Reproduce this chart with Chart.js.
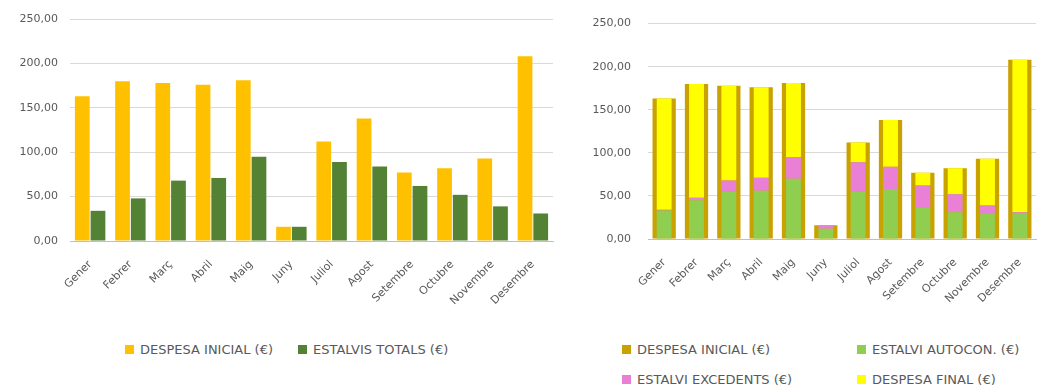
<!DOCTYPE html>
<html lang="ca">
<head>
    <meta charset="UTF-8">
    <title>Despesa i estalvi mensual</title>
    <script src="https://cdn.jsdelivr.net/npm/chart.js"></script>
    <style>
        body {
            margin: 0;
            background: #ffffff;
            font-family: "DejaVu Sans", sans-serif;
        }

        #page {
            position: relative;
            width: 1039px;
            height: 391px;
            overflow: hidden;
        }

        .chart-box {
            position: absolute;
            top: 0;
            height: 330px;
        }

        .legend-item {
            position: absolute;
            font-size: 13px;
            color: #595959;
            line-height: 14px;
            white-space: nowrap;
        }

        .legend-item span {
            display: inline-block;
            width: 9px;
            height: 9px;
            margin-right: 6px;
            vertical-align: 0;
        }
    </style>
</head>
<body>

<div id="page">
    <div class="chart-box" style="left:0; width:556px;">
        <canvas id="chartTotals"></canvas>
    </div>
    <div class="chart-box" style="left:560px; width:479px;">
        <canvas id="chartDetail"></canvas>
    </div>

    <!-- legends -->
    <div class="legend-item" style="left:125px; top:343px;"><span style="background:#ffc000"></span>DESPESA INICIAL (€)</div>
    <div class="legend-item" style="left:298px; top:343px;"><span style="background:#548235"></span>ESTALVIS TOTALS (€)</div>

    <div class="legend-item" style="left:622px; top:343px;"><span style="background:#c9a200"></span>DESPESA INICIAL (€)</div>
    <div class="legend-item" style="left:857px; top:343px;"><span style="background:#8fce4f"></span>ESTALVI AUTOCON. (€)</div>
    <div class="legend-item" style="left:622px; top:373px;"><span style="background:#ea7fd6"></span>ESTALVI EXCEDENTS (€)</div>
    <div class="legend-item" style="left:857px; top:373px;"><span style="background:#ffff00"></span>DESPESA FINAL (€)</div>
</div>

<script>
    // monthly figures in euros
    const months = ['Gener', 'Febrer', 'Març', 'Abril', 'Maig', 'Juny', 'Juliol', 'Agost', 'Setembre', 'Octubre', 'Novembre', 'Desembre'];
    const despesaInicial = [163, 180, 178, 176, 181, 16, 112, 138, 77, 82, 93, 208];
    const estalvisTotals = [34, 48, 68, 71, 95, 16, 89, 84, 62, 52, 39, 31];
    const estalviAutocon = [33, 45, 55, 56, 70, 12, 55, 58, 36, 31, 29, 30];
    const estalviExcedents = [1, 3, 13, 15, 25, 4, 34, 26, 26, 21, 10, 1];
    const despesaFinal = [129, 132, 110, 105, 86, 0, 23, 54, 15, 30, 54, 177];
    const yTicks = [0, 50, 100, 150, 200, 250];

    const textColor = '#595959';
    const tickFont = {family: 'DejaVu Sans', size: 11};

    // shared axis setup, xHeight/yWidth pin the plot area
    function axes(yWidth, xHeight, yPad, stacked) {
        return {
            x: {
                stacked: stacked,
                grid: {display: false},
                border: {display: true, color: '#bfbfbf', width: 1},
                ticks: {
                    color: textColor,
                    font: tickFont,
                    maxRotation: 45,
                    minRotation: 45,
                    padding: 9
                },
                afterFit: scale => { scale.height = xHeight; }
            },
            y: {
                stacked: stacked,
                min: 0,
                max: 250,
                afterBuildTicks: scale => { scale.ticks = yTicks.map(v => ({value: v})); },
                grid: {color: '#d9d9d9', drawTicks: false},
                border: {display: false},
                ticks: {
                    color: textColor,
                    font: tickFont,
                    padding: yPad,
                    callback: v => v.toFixed(2).replace('.', ',')
                },
                afterFit: scale => { scale.width = yWidth; }
            }
        };
    }

    new Chart(document.getElementById('chartTotals'), {
        type: 'bar',
        data: {
            labels: months,
            datasets: [{
                label: 'DESPESA INICIAL (€)',
                data: despesaInicial,
                backgroundColor: '#ffc000',
                categoryPercentage: 0.78,
                barPercentage: 0.94
            }, {
                label: 'ESTALVIS TOTALS (€)',
                data: estalvisTotals,
                backgroundColor: '#548235',
                categoryPercentage: 0.78,
                barPercentage: 0.94
            }]
        },
        options: {
            responsive: true,
            maintainAspectRatio: false,
            animation: false,
            layout: {padding: {top: 19, right: 3, left: 0, bottom: 0}},
            plugins: {legend: {display: false}, tooltip: {enabled: false}},
            scales: axes(70, 89, 12, false)
        }
    });

    // despesa inicial drawn wide behind, the three parts stacked narrow in front
    new Chart(document.getElementById('chartDetail'), {
        type: 'bar',
        data: {
            labels: months,
            datasets: [{
                label: 'DESPESA INICIAL (€)',
                data: despesaInicial,
                backgroundColor: '#c9a200',
                stack: 'inicial',
                grouped: false,
                order: 1,
                categoryPercentage: 1,
                barPercentage: 0.72
            }, {
                label: 'ESTALVI AUTOCON. (€)',
                data: estalviAutocon,
                backgroundColor: '#8fce4f',
                stack: 'final',
                grouped: false,
                order: 0,
                categoryPercentage: 1,
                barPercentage: 0.46
            }, {
                label: 'ESTALVI EXCEDENTS (€)',
                data: estalviExcedents,
                backgroundColor: '#ea7fd6',
                stack: 'final',
                grouped: false,
                order: 0,
                categoryPercentage: 1,
                barPercentage: 0.46
            }, {
                label: 'DESPESA FINAL (€)',
                data: despesaFinal,
                backgroundColor: '#ffff00',
                stack: 'final',
                grouped: false,
                order: 0,
                categoryPercentage: 1,
                barPercentage: 0.46
            }]
        },
        options: {
            responsive: true,
            maintainAspectRatio: false,
            animation: false,
            layout: {padding: {top: 19, right: 3, left: 0, bottom: 0}},
            plugins: {legend: {display: false}, tooltip: {enabled: false}},
            scales: axes(88, 91, 17, true)
        }
    });
</script>
</body>
</html>
